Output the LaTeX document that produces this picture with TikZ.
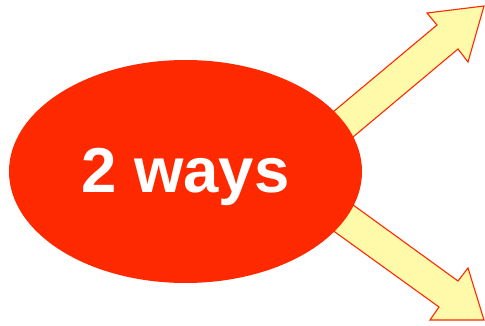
\documentclass[tikz,border=0pt]{standalone}
\usepackage{fontspec}
\setmainfont{Liberation Sans}
\usetikzlibrary{shapes.geometric}
\definecolor{blobred}{RGB}{255,41,0}
\definecolor{arrowfill}{RGB}{255,250,170}
\tikzset{
  blockarrow/.style={draw=blobred, fill=arrowfill, line width=1.1pt, line join=miter},
  blob/.style={ellipse, fill=blobred, draw=none, minimum width=353pt, minimum height=223pt, inner sep=0pt},
  bigtext/.style={text=white, font=\bfseries\fontsize{63.5}{63.5}\selectfont, inner sep=0pt}
}
\begin{document}
\begin{tikzpicture}[x=1pt,y=-1pt]
\useasboundingbox (0,0) rectangle (485,326);
% upper arrow
\draw[blockarrow] (300,139.6) -- (437,25) -- (427,13) -- (484,6) -- (468,62) -- (458,49) -- (320,164.7) -- cycle;
% lower arrow
\draw[blockarrow] (320,181) -- (458,281) -- (468,268) -- (484,320) -- (430,320) -- (439,307) -- (300,206.8) -- cycle;
\node[blob] (ways) at (185.5,171.5) {};
\node[bigtext, anchor=base] (label) at (185.3,193) {2 ways};
\end{tikzpicture}
\end{document}
